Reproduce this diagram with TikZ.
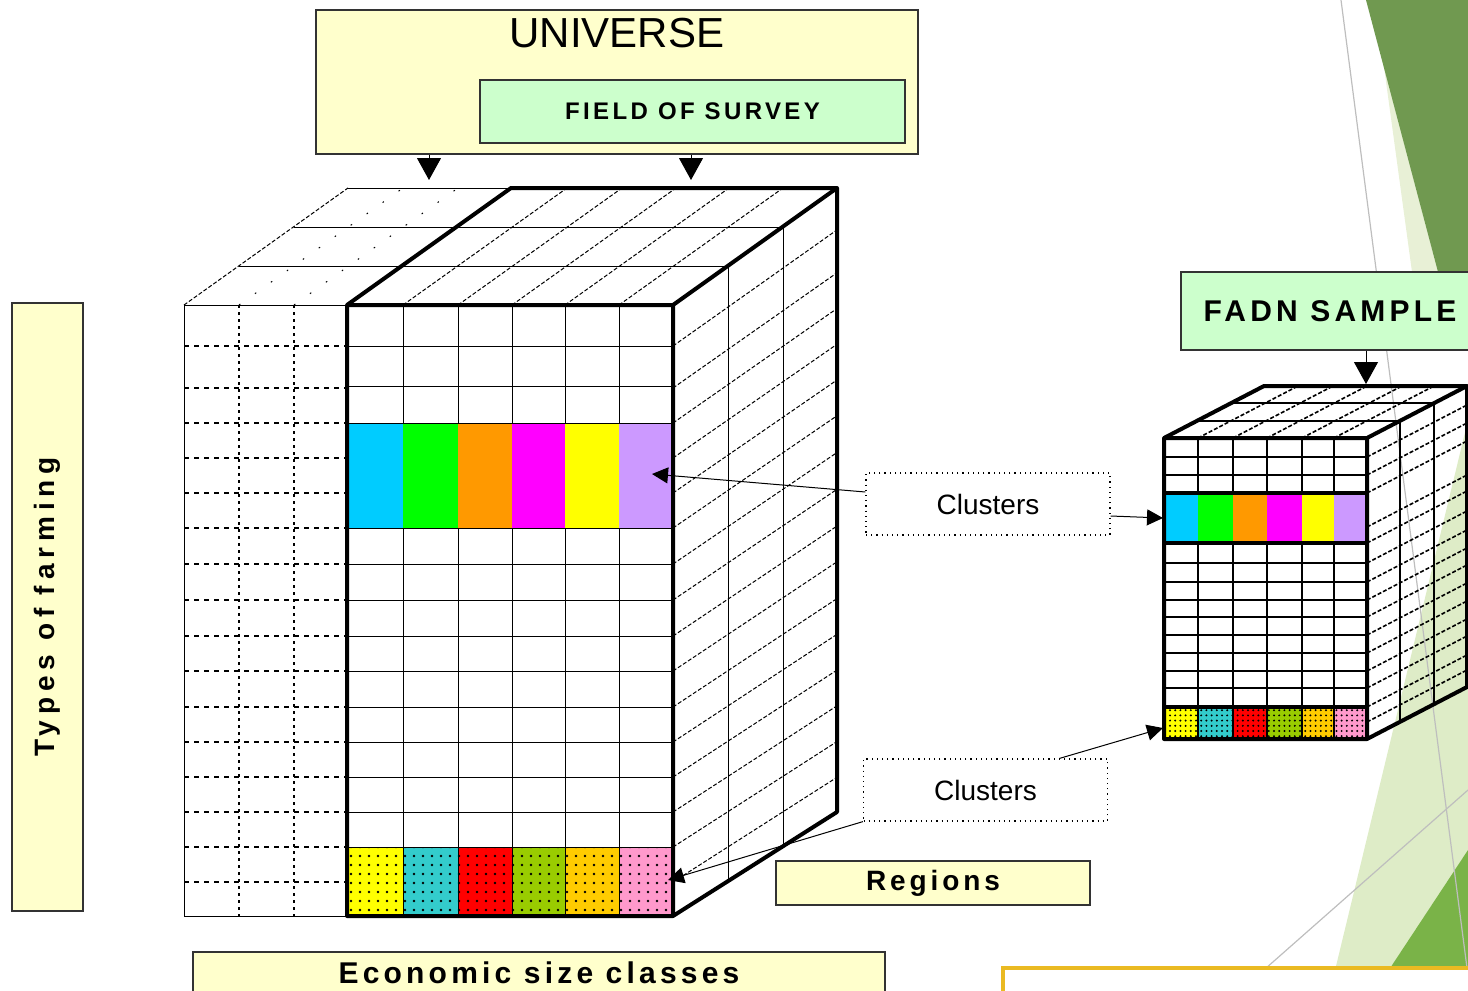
\documentclass[tikz,border=0pt]{standalone}
\usepackage{fontspec}
\setmainfont{Liberation Sans}
\newfontfamily\spacedfont[LetterSpace=14]{Liberation Sans}
\newfontfamily\widefont[LetterSpace=21]{Liberation Sans}
\usetikzlibrary{positioning,arrows.meta,patterns.meta}
\definecolor{boxyellow}{RGB}{255,255,204}
\definecolor{boxgreen}{RGB}{204,255,204}
\definecolor{clcyan}{RGB}{0,204,255}
\definecolor{clgreen}{RGB}{0,255,0}
\definecolor{clorange}{RGB}{255,153,0}
\definecolor{clmagenta}{RGB}{255,0,255}
\definecolor{clyellow}{RGB}{255,255,0}
\definecolor{cllilac}{RGB}{204,153,255}
\definecolor{rgteal}{RGB}{51,204,204}
\definecolor{rgred}{RGB}{255,0,0}
\definecolor{rgolive}{RGB}{153,204,0}
\definecolor{rgamber}{RGB}{255,204,0}
\definecolor{rgpink}{RGB}{255,153,204}
\definecolor{facetdark}{RGB}{112,153,80}
\definecolor{facetlight}{RGB}{222,236,199}
\definecolor{facetpale}{RGB}{232,240,214}
\definecolor{facetbright}{RGB}{122,179,72}
\definecolor{facetline}{RGB}{190,190,190}
\definecolor{framegold}{RGB}{234,186,34}

\begin{document}
\begin{tikzpicture}[x=.5pt,y=-.5pt,
  yellowbox/.style={draw=black!80,line width=.8pt,fill=boxyellow,inner sep=0pt},
  greenbox/.style={draw=black!80,line width=.8pt,fill=boxgreen,inner sep=0pt},
  clusterbox/.style={draw,dotted,line width=.6pt,minimum width=122pt,minimum height=31pt,font=\fontsize{14}{16}\selectfont},
  gridline/.style={line width=.5pt},
  depthline/.style={line width=.5pt,dash pattern=on 2pt off 1pt},
  outline/.style={line width=2pt,line join=round},
  drop/.style={-{Triangle[length=11pt,width=12pt]},line width=.5pt},
  pointer/.style={-{Triangle[length=8pt,width=8pt]},line width=.5pt}]
  \useasboundingbox (0,0) rectangle (1468,991);
  \clip (0,0) rectangle (1468,991);

  % slide background facets
  \fill[facetpale] (1384,67) -- (1412,272) -- (1438,272) -- cycle;
  \fill[facetdark] (1366,0) -- (1468,0) -- (1468,272) -- (1438,272) -- cycle;
  \fill[facetlight] (1330,991) -- (1468,420) -- (1468,991) -- cycle;
  \fill[facetbright] (1375,991) -- (1468,850) -- (1468,991) -- cycle;
  \draw[facetline,line width=.6pt] (1341,0) -- (1470,991);
  \draw[facetline,line width=.6pt] (1240,991) -- (1468,790);

  % universe cube: front faces
  \fill[white] (184,305) rectangle (673,916);
  \foreach \xa/\xb/\c in {347/403/clcyan,403/458/clgreen,458/512/clorange,512/565/clmagenta,565/619/clyellow,619/673/cllilac}
    \fill[\c] (\xa,423) rectangle (\xb,528);
  \foreach \xa/\xb/\c in {347/403/clyellow,403/458/rgteal,458/512/rgred,512/565/rgolive,565/619/rgamber,619/673/rgpink} {
    \fill[\c] (\xa,847) rectangle (\xb,916);
    \fill[pattern={Dots[distance=4.5pt,radius=.65pt]},pattern color=black] (\xa,847) rectangle (\xb,916);
  }
  \foreach \y in {346,386,423,528,564,600,636,671,707,742,777,812,847}
    \draw[gridline] (347,\y) -- (673,\y);
  \foreach \x in {403,458,512,565,619} {
    \draw[gridline] (\x,305) -- (\x,423);
    \draw[gridline] (\x,528) -- (\x,916);
  }
  % area outside the field of survey
  \draw[gridline] (184,305) rectangle (347,916);
  \foreach \x in {239,294}
    \draw[line width=.6pt,dash pattern=on 1.5pt off 2pt] (\x,305) -- (\x,916);
  \foreach \y in {346,388,423,458,493,528,564,600,636,671,707,742,777,812,847,882}
    \draw[line width=.6pt,dash pattern=on 2.5pt off 2.5pt] (184,\y) -- (347,\y);
  % top face
  \draw[depthline] (184,305) -- ++(164,-117);
  \foreach \x in {239,294}
    \draw[line width=.5pt,dash pattern=on .8pt off 9pt] (\x,305) -- ++(164,-117);
  \foreach \x in {403,458,512,565,619}
    \draw[depthline] (\x,305) -- ++(164,-117);
  \draw[gridline] (239,266) -- (728,266);
  \draw[gridline] (294,227) -- (783,227);
  \draw[gridline] (348,188) -- (511,188);
  % right face
  \foreach \y in {346,388,423,458,493,528,564,600,636,671,707,742,777,812,847,882}
    \draw[depthline] (673,\y) -- (837,{188+(\y-305)*1.0213});
  \draw[gridline] (728,266) -- (728,881);
  \draw[gridline] (783,227) -- (783,846);
  \draw[outline] (347,916) -- (347,305) -- (511,188) -- (837,188) -- (837,812) -- (673,916) -- cycle;
  \draw[outline] (347,305) -- (673,305) -- (673,916) (673,305) -- (837,188);

  % sample cube
  \fill[white] (1164,438) rectangle (1367,739);
  \foreach \xa/\xb/\c in {1164/1198/clcyan,1198/1233/clgreen,1233/1267/clorange,1267/1302/clmagenta,1302/1334/clyellow,1334/1367/cllilac}
    \fill[\c] (\xa,493) rectangle (\xb,543);
  \foreach \xa/\xb/\c in {1164/1198/clyellow,1198/1233/rgteal,1233/1267/rgred,1267/1302/rgolive,1302/1334/rgamber,1334/1367/rgpink} {
    \fill[\c] (\xa,707) rectangle (\xb,739);
    \fill[pattern={Dots[distance=2.6pt,radius=.55pt]},pattern color=black] (\xa,707) rectangle (\xb,739);
  }
  \foreach \y in {457,475,563,582,600,617,635,653,671,688}
    \draw[line width=.9pt] (1164,\y) -- (1367,\y);
  \draw[line width=1.6pt] (1164,493) -- (1367,493) (1164,543) -- (1367,543) (1164,707) -- (1367,707);
  \foreach \x in {1198,1233,1267,1302,1334} {
    \draw[line width=.9pt] (\x,438) -- (\x,493);
    \draw[line width=.9pt] (\x,543) -- (\x,739);
  }
  \foreach \x in {1198,1233,1267,1302,1334}
    \draw[depthline,line width=.8pt] (\x,438) -- ++(100,-52);
  \draw[line width=.9pt] (1197,421) -- (1400,421);
  \draw[line width=.9pt] (1231,403) -- (1434,403);
  \foreach \y in {457,475,493,527,543,563,582,600,617,635,653,671,688,707,722}
    \draw[depthline,line width=.8pt] (1367,\y) -- ++(100,-52);
  \draw[line width=1pt] (1400,421) -- (1400,722);
  \draw[line width=1pt] (1434,403) -- (1434,705);
  \draw[outline] (1164,739) -- (1164,438) -- (1264,386) -- (1467,386) -- (1467,687) -- (1367,739) -- cycle;
  \draw[outline] (1164,438) -- (1367,438) -- (1367,739) (1367,438) -- (1467,386);

  % label boxes
  \node[yellowbox,minimum width=301pt,minimum height=72pt] (universe) at (617,82) {};
  \node[anchor=base,font=\fontsize{21}{24}\selectfont] (unilabel) at (617,47) {UNIVERSE};
  \node[greenbox,minimum width=212.5pt,minimum height=31.5pt,font=\spacedfont\bfseries\fontsize{12}{14}\selectfont] (survey) at (692.5,111.5) {FIELD OF SURVEY};
  \node[yellowbox,minimum width=35.5pt,minimum height=304pt] (types) at (47.5,607) {};
  \node[rotate=90,font=\widefont\bfseries\fontsize{14}{16}\selectfont] (typeslabel) at (types.center) {Types of farming};
  \node[yellowbox,anchor=north,minimum width=346pt,minimum height=21pt,font=\spacedfont\bfseries\fontsize{15}{17}\selectfont] (econ) at (539,951) {Economic size classes};
  \node[yellowbox,minimum width=157pt,minimum height=22pt,font=\spacedfont\bfseries\fontsize{14}{16}\selectfont] (regions) at (933,883) {Regions};
  \node[greenbox,minimum width=149pt,minimum height=39pt,font=\spacedfont\bfseries\fontsize{15}{17}\selectfont] (fadn) at (1330,311) {FADN SAMPLE};
  \node[clusterbox] (clustersA) at (988,504) {Clusters};
  \node[clusterbox] (clustersB) at (985.5,790) {Clusters};

  % connectors
  \coordinate (unitip) at (429,180);
  \coordinate (surveytip) at (691,180);
  \coordinate (fadntip) at (1366,384);
  \coordinate (lilac) at (652,474);
  \coordinate (sampleband) at (1163,518);
  \coordinate (pink) at (668,880);
  \coordinate (sampledots) at (1163,728);
  \draw[drop] (universe.south -| unitip) -- (unitip);
  \draw[drop] (universe.south -| surveytip) -- (surveytip);
  \draw[drop] (fadn.south -| fadntip) -- (fadntip);
  \draw[pointer] ([yshift=6pt]clustersA.west) -- (lilac);
  \draw[pointer] ([yshift=-6pt]clustersA.east) -- (sampleband);
  \draw[pointer] (clustersB.south west) -- (pink);
  \draw[pointer] ([xshift=37pt]clustersB.north) -- (sampledots);

  % frame of the next panel
  \draw[framegold,line width=2pt,fill=white] (1003,968) rectangle (1500,1020);
\end{tikzpicture}
\end{document}
